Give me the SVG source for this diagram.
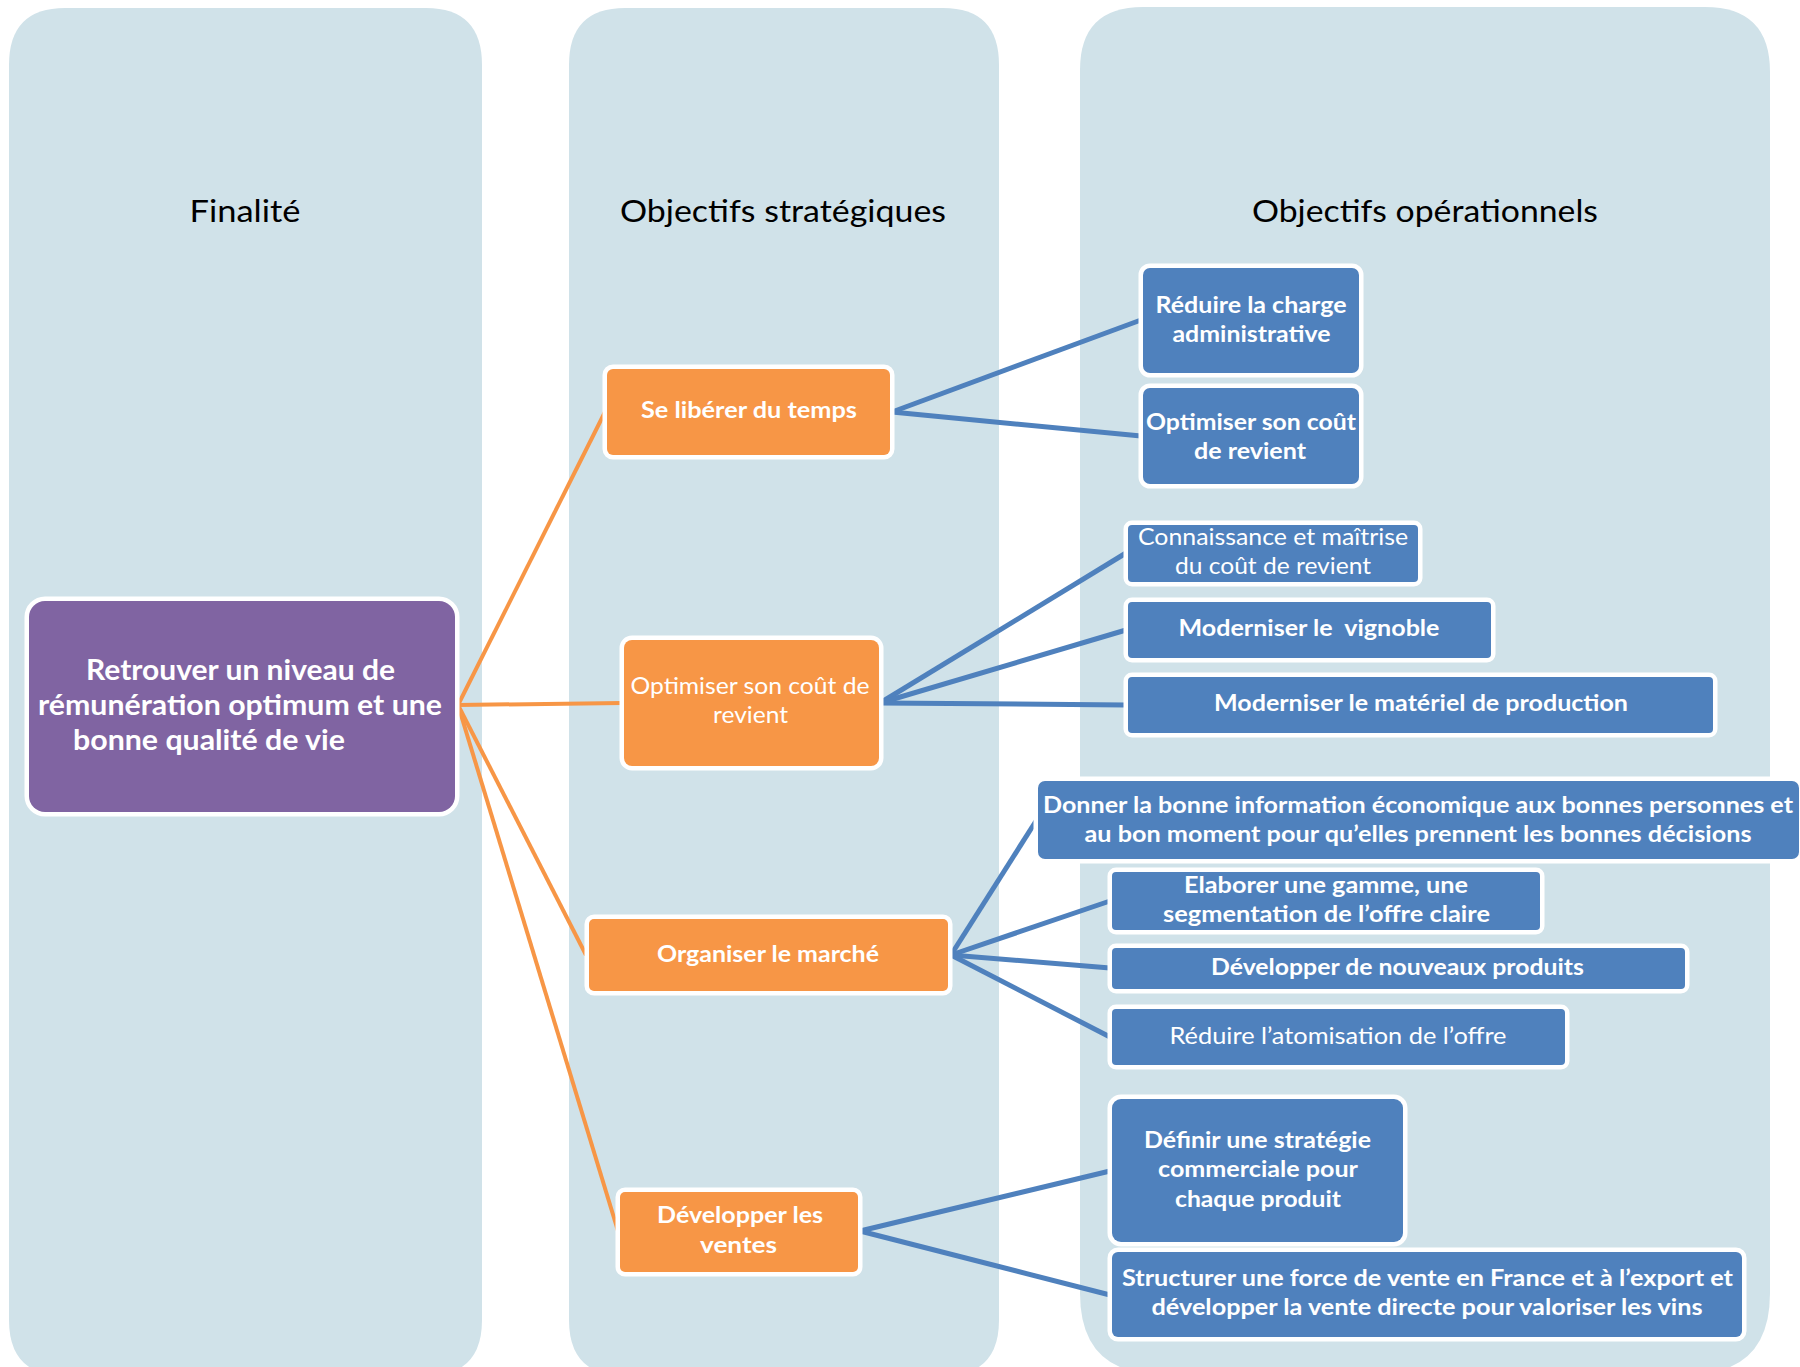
<svg xmlns="http://www.w3.org/2000/svg" width="1800" height="1367" viewBox="0 0 1800 1367">
<style>
.col{fill:#D0E2E9}
text{font-family:Lato,"Liberation Sans",sans-serif}
.hdr{font-size:31px;fill:#000;text-anchor:middle}
.box{stroke:#fff;stroke-width:9;paint-order:stroke}
.pur{fill:#8064A2}
.org{fill:#F79646}
.blu{fill:#4F81BD}
.t{fill:#fff;text-anchor:middle;font-size:23px}
.b{font-weight:bold}
.tp{font-size:28px;font-weight:bold}
.oc{stroke:#F79646;stroke-width:4;fill:none}
.bc{stroke:#4F81BD;stroke-width:5;fill:none}
</style>
<rect width="1800" height="1367" fill="#fff"/>
<g id="columns">
<path class="col" d="M9,65 Q9,8 65,8 L426,8 Q482,8 482,65 L482,1320 Q482,1376 426,1376 L65,1376 Q9,1376 9,1320 Z"/>
<path class="col" d="M569,65 Q569,8 625,8 L943,8 Q999,8 999,65 L999,1320 Q999,1376 943,1376 L625,1376 Q569,1376 569,1320 Z"/>
<path class="col" d="M1080,70 Q1080,7 1143,7 L1705,7 Q1770,7 1770,72 L1770,1293 Q1770,1374 1690,1374 L1160,1374 Q1080,1374 1080,1293 Z"/>
<text class="hdr" x="245" y="222" textLength="111" lengthAdjust="spacingAndGlyphs">Finalité</text>
<text class="hdr" x="783" y="222" textLength="326" lengthAdjust="spacingAndGlyphs">Objectifs stratégiques</text>
<text class="hdr" x="1425" y="222" textLength="346" lengthAdjust="spacingAndGlyphs">Objectifs opérationnels</text>
</g>
<g id="connectors">
<line class="oc" x1="458" y1="705" x2="605" y2="412"/>
<line class="oc" x1="458" y1="705" x2="622" y2="703"/>
<line class="oc" x1="458" y1="705" x2="586" y2="955"/>
<line class="oc" x1="458" y1="705" x2="618" y2="1231"/>
<line class="bc" x1="892" y1="412" x2="1141" y2="320"/>
<line class="bc" x1="892" y1="412" x2="1141" y2="436"/>
<line class="bc" x1="880" y1="703" x2="1126" y2="553"/>
<line class="bc" x1="880" y1="703" x2="1126" y2="630"/>
<line class="bc" x1="880" y1="703" x2="1126" y2="705"/>
<line class="bc" x1="951" y1="955" x2="1036" y2="821"/>
<line class="bc" x1="951" y1="955" x2="1110" y2="901"/>
<line class="bc" x1="951" y1="955" x2="1110" y2="968"/>
<line class="bc" x1="951" y1="955" x2="1110" y2="1037"/>
<line class="bc" x1="860" y1="1231" x2="1110" y2="1171"/>
<line class="bc" x1="860" y1="1231" x2="1110" y2="1295"/>
</g>
<g id="n-finalite">
<rect class="box pur" x="29" y="601" width="426" height="211" rx="16"/>
<text class="t tp" x="240.5" y="680" textLength="309" lengthAdjust="spacingAndGlyphs">Retrouver un niveau de</text>
<text class="t tp" x="240" y="715" textLength="404" lengthAdjust="spacingAndGlyphs">rémunération optimum et une</text>
<text class="t tp" x="209" y="750" textLength="272" lengthAdjust="spacingAndGlyphs">bonne qualité de vie</text>
</g>
<g id="n-temps">
<rect class="box org" x="607" y="369" width="283" height="86" rx="6"/>
<text class="t b" x="749" y="418" textLength="216" lengthAdjust="spacingAndGlyphs">Se libérer du temps</text>
</g>
<g id="n-cout">
<rect class="box org" x="624" y="640" width="255" height="126" rx="8"/>
<text class="t" x="750" y="694" textLength="239" lengthAdjust="spacingAndGlyphs">Optimiser son coût de</text>
<text class="t" x="750.5" y="723" textLength="75" lengthAdjust="spacingAndGlyphs">revient</text>
</g>
<g id="n-marche">
<rect class="box org" x="589" y="919" width="359" height="72" rx="5"/>
<text class="t b" x="768" y="962" textLength="222" lengthAdjust="spacingAndGlyphs">Organiser le marché</text>
</g>
<g id="n-ventes">
<rect class="box org" x="620" y="1192" width="238" height="80" rx="5"/>
<text class="t b" x="740" y="1223" textLength="166" lengthAdjust="spacingAndGlyphs">Développer les</text>
<text class="t b" x="738.5" y="1253" textLength="77" lengthAdjust="spacingAndGlyphs">ventes</text>
</g>
<g id="n-b1">
<rect class="box blu" x="1143" y="268" width="216" height="105" rx="7"/>
<text class="t b" x="1251" y="313" textLength="191" lengthAdjust="spacingAndGlyphs">Réduire la charge</text>
<text class="t b" x="1251.5" y="342" textLength="158" lengthAdjust="spacingAndGlyphs">administrative</text>
</g>
<g id="n-b2">
<rect class="box blu" x="1143" y="388" width="216" height="96" rx="7"/>
<text class="t b" x="1251" y="430" textLength="210" lengthAdjust="spacingAndGlyphs">Optimiser son coût</text>
<text class="t b" x="1250" y="459" textLength="112" lengthAdjust="spacingAndGlyphs">de revient</text>
</g>
<g id="n-b3">
<rect class="box blu" x="1128" y="525" width="290" height="57" rx="4"/>
<text class="t" x="1273" y="545" textLength="270" lengthAdjust="spacingAndGlyphs">Connaissance et maîtrise</text>
<text class="t" x="1273" y="574" textLength="196" lengthAdjust="spacingAndGlyphs">du coût de revient</text>
</g>
<g id="n-b4">
<rect class="box blu" x="1128" y="602" width="363" height="56" rx="4"/>
<text class="t b" x="1309" y="636" style="white-space:pre" textLength="261" lengthAdjust="spacingAndGlyphs">Moderniser le  vignoble</text>
</g>
<g id="n-b5">
<rect class="box blu" x="1128" y="677" width="585" height="56" rx="4"/>
<text class="t b" x="1421" y="711" textLength="414" lengthAdjust="spacingAndGlyphs">Moderniser le matériel de production</text>
</g>
<g id="n-b6">
<rect class="box blu" x="1038" y="781" width="761" height="78" rx="7"/>
<text class="t b" x="1418" y="813" textLength="750" lengthAdjust="spacingAndGlyphs">Donner la bonne information économique aux bonnes personnes et</text>
<text class="t b" x="1418" y="842" textLength="667" lengthAdjust="spacingAndGlyphs">au bon moment pour qu’elles prennent les bonnes décisions</text>
</g>
<g id="n-b7">
<rect class="box blu" x="1112" y="872" width="428" height="58" rx="4"/>
<text class="t b" x="1326" y="893" textLength="284" lengthAdjust="spacingAndGlyphs">Elaborer une gamme, une</text>
<text class="t b" x="1326.5" y="922" textLength="327" lengthAdjust="spacingAndGlyphs">segmentation de l’offre claire</text>
</g>
<g id="n-b8">
<rect class="box blu" x="1112" y="948" width="573" height="41" rx="4"/>
<text class="t b" x="1397.5" y="975" textLength="373" lengthAdjust="spacingAndGlyphs">Développer de nouveaux produits</text>
</g>
<g id="n-b9">
<rect class="box blu" x="1112" y="1009" width="453" height="56" rx="4"/>
<text class="t" x="1338" y="1044" textLength="337" lengthAdjust="spacingAndGlyphs">Réduire l’atomisation de l’offre</text>
</g>
<g id="n-b10">
<rect class="box blu" x="1112" y="1099" width="291" height="143" rx="9"/>
<text class="t b" x="1257.5" y="1148" textLength="227" lengthAdjust="spacingAndGlyphs">Définir une stratégie</text>
<text class="t b" x="1258" y="1177" textLength="200" lengthAdjust="spacingAndGlyphs">commerciale pour</text>
<text class="t b" x="1258" y="1207" textLength="166" lengthAdjust="spacingAndGlyphs">chaque produit</text>
</g>
<g id="n-b11">
<rect class="box blu" x="1112" y="1252" width="630" height="85" rx="6"/>
<text class="t b" x="1427.5" y="1286" textLength="611" lengthAdjust="spacingAndGlyphs">Structurer une force de vente en France et à l’export et</text>
<text class="t b" x="1427" y="1315" textLength="551" lengthAdjust="spacingAndGlyphs">développer la vente directe pour valoriser les vins</text>
</g>
</svg>
